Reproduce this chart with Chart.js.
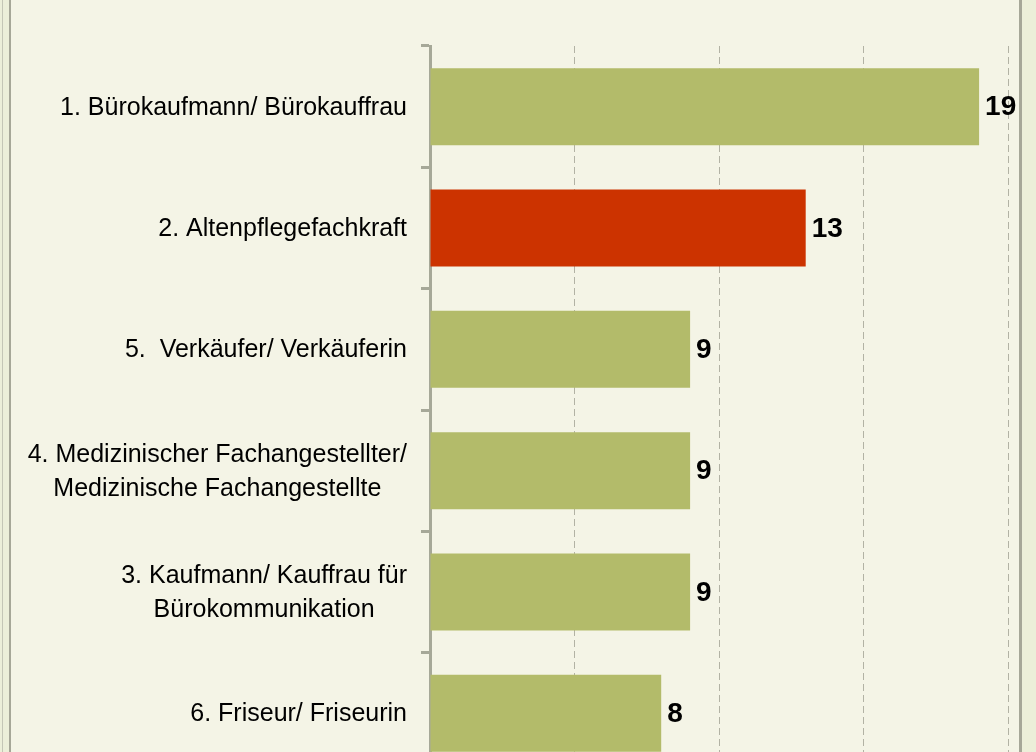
<!DOCTYPE html>
<html>
<head>
<meta charset="utf-8">
<script src="https://cdn.jsdelivr.net/npm/chart.js@4"></script>
<style>
  html, body { margin: 0; padding: 0; overflow: hidden; }
  body { width: 1036px; height: 752px; background: #ECEFD9; position: relative; }
  #edge { position: absolute; left: 2px; top: 0; width: 1px; height: 752px; background: #C4C6B6; }
  #frame { position: absolute; left: 9px; top: 0; width: 1008px; height: 752px;
           background: #F4F4E6; border-left: 2px solid #A6A798; border-right: 3px solid #A6A798; }
  canvas { position: absolute; left: 0; top: 0; }
</style>
</head>
<body>
<div id="edge"></div>
<div id="frame"></div>
<canvas id="chart" width="1036" height="800"></canvas>
<script>
// Berufe (Reihenfolge wie im Diagramm)
const categories = [
  ['1. Bürokaufmann/ Bürokauffrau'],
  ['2. Altenpflegefachkraft'],
  ['5.  Verkäufer/ Verkäuferin'],
  ['4. Medizinischer Fachangestellter/', 'Medizinische Fachangestellte'],
  ['3. Kaufmann/ Kauffrau für', 'Bürokommunikation'],
  ['6. Friseur/ Friseurin']
];
const values = [19, 13, 9, 9, 9, 8];
const highlighted = 1;

const GREEN = '#B3BB6A';
const RED = '#CC3300';
const AXIS = '#A6A898';

// Beschriftungen links: rechtsbündiger Block, Zeilen zentriert
const labelPlugin = {
  id: 'labels',
  afterDraw(chart) {
    const ctx = chart.ctx;
    const y = chart.scales.y;
    ctx.save();
    ctx.font = '25px "Liberation Sans", Arial, sans-serif';
    ctx.fillStyle = '#000';
    ctx.textAlign = 'center';
    ctx.textBaseline = 'middle';
    const lh = 34;
    categories.forEach((lines, i) => {
      const cy = y.getPixelForValue(i);
      const w = Math.max(...lines.map(l => ctx.measureText(l).width));
      const cx = 407 - w / 2;
      lines.forEach((l, k) => {
        ctx.fillText(l, cx, cy + 1 + (k - (lines.length - 1) / 2) * lh);
      });
    });

    // Werte am Balkenende
    ctx.font = 'bold 28px "Liberation Sans", Arial, sans-serif';
    ctx.textAlign = 'left';
    chart.getDatasetMeta(0).data.forEach((bar, i) => {
      ctx.fillText(values[i], bar.x + 6, bar.y + 1);
    });
    ctx.restore();
  }
};

new Chart(document.getElementById('chart'), {
  type: 'bar',
  data: {
    labels: categories,
    datasets: [{
      data: values,
      backgroundColor: ctx => ctx.dataIndex === highlighted ? RED : GREEN,
      categoryPercentage: 1,
      barPercentage: 0.635
    }]
  },
  options: {
    indexAxis: 'y',
    responsive: false,
    animation: false,
    layout: { padding: { top: 46, right: 28, bottom: 26, left: 0 } },
    plugins: { legend: { display: false }, tooltip: { enabled: false } },
    scales: {
      x: {
        min: 0,
        max: 20,
        ticks: { display: false, stepSize: 5 },
        grid: {
          drawTicks: false,
          color: c => c.tick && c.tick.value === 0 ? 'rgba(0,0,0,0)' : '#B2B2A4',
          lineWidth: 1
        },
        border: { display: false, dash: [7, 4] },
        afterFit: s => { s.height = 0; }
      },
      y: {
        ticks: { display: false },
        grid: {
          offset: true,
          drawOnChartArea: false,
          drawTicks: true,
          tickLength: 9,
          tickWidth: 3,
          tickColor: AXIS,
          color: AXIS
        },
        border: { display: true, color: AXIS, width: 3 },
        afterFit: s => { s.width = 430; }
      }
    }
  },
  plugins: [labelPlugin]
});
</script>
</body>
</html>
